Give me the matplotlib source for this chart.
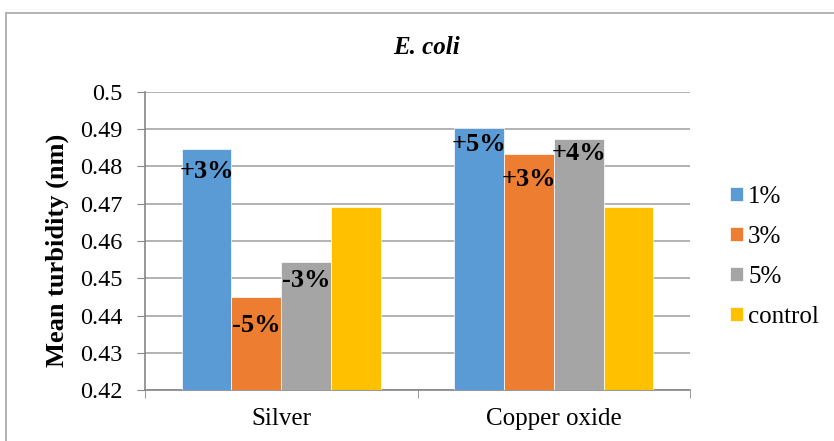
import matplotlib.pyplot as plt
from matplotlib.patches import Rectangle
import numpy as np

plt.rcParams['font.family'] = ['Liberation Serif', 'DejaVu Serif']

categories = ['Silver', 'Copper oxide']
series = ['1%', '3%', '5%', 'control']
values = {
    '1%': [0.4847, 0.4903],
    '3%': [0.4450, 0.4833],
    '5%': [0.4544, 0.4873],
    'control': [0.4691, 0.4692],
}
change_labels = {
    '1%': ['+3%', '+5%'],
    '3%': ['-5%', '+3%'],
    '5%': ['-3%', '+4%'],
    'control': [None, None],
}
colors = ['#5B9BD5', '#ED7D31', '#A5A5A5', '#FFC000']
# how far below the bar top each label sits, in points
label_drop = {
    '1%': [16, 11.5],
    '3%': [20.5, 18],
    '5%': [13.5, 10.5],
    'control': [0, 0],
}

W, H = 834, 441
fig = plt.figure(figsize=(W / 100, H / 100), dpi=100)
fig.patches.append(Rectangle((6 / W, -0.1), 2, (H - 13) / H + 0.1,
                             transform=fig.transFigure, fill=False,
                             edgecolor='#A6A6A6', linewidth=1.2))

ax = fig.add_axes([145 / W, (H - 390) / H, (690 - 145) / W, (390 - 92) / H])

x = np.arange(len(categories))
bw = 0.183
for i, s in enumerate(series):
    pos = x + (i - 1.5) * bw
    bars = ax.bar(pos, values[s], bw, bottom=0, color=colors[i], label=s,
                  edgecolor='white', linewidth=0.5, zorder=3)
    for j, b in enumerate(bars):
        txt = change_labels[s][j]
        if txt:
            ax.annotate(txt, (b.get_x() + b.get_width() / 2, b.get_height()),
                        xytext=(0, -label_drop[s][j]), textcoords='offset points',
                        ha='center', va='center', fontsize=19, fontweight='bold',
                        zorder=4)

ax.set_ylim(0.42, 0.5)
ax.set_xlim(-0.5, 1.5)
ax.set_yticks(np.arange(0.42, 0.5001, 0.01))
ax.set_yticklabels(['0.42', '0.43', '0.44', '0.45', '0.46', '0.47', '0.48', '0.49', '0.5'])
ax.set_xticks(x)
ax.set_xticklabels(categories)
ax.set_xticks([-0.5, 0.5, 1.5], minor=True)
ax.tick_params(axis='x', which='major', length=0, pad=13, labelsize=18)
ax.tick_params(axis='x', which='minor', length=6, color='#868686', direction='out')
ax.tick_params(axis='y', length=6, color='#868686', labelsize=17.5, pad=10)

ax.grid(axis='y', color='#A6A6A6', linewidth=1.2, zorder=0)
for side in ['top', 'right']:
    ax.spines[side].set_visible(False)
ax.spines['left'].set_color('#868686')
ax.spines['bottom'].set_color('#868686')
ax.spines['left'].set_linewidth(1.2)
ax.spines['bottom'].set_linewidth(1.2)

fig.text(57 / W, 1 - 250 / H, 'Mean turbidity (nm)', rotation=90,
         ha='center', va='center', fontsize=19, fontweight='bold')
fig.text(427 / W, 1 - 47 / H, 'E. coli', ha='center', va='center',
         fontsize=18, fontweight='bold', fontstyle='italic')

leg = fig.legend(loc='center left', bbox_to_anchor=(730 / W, 1 - 257 / H),
                 frameon=False, fontsize=18, handlelength=0.52, handleheight=0.52,
                 handletextpad=0.2, labelspacing=0.72, borderpad=0,
                 borderaxespad=0)

plt.savefig('out.png', dpi=100)
